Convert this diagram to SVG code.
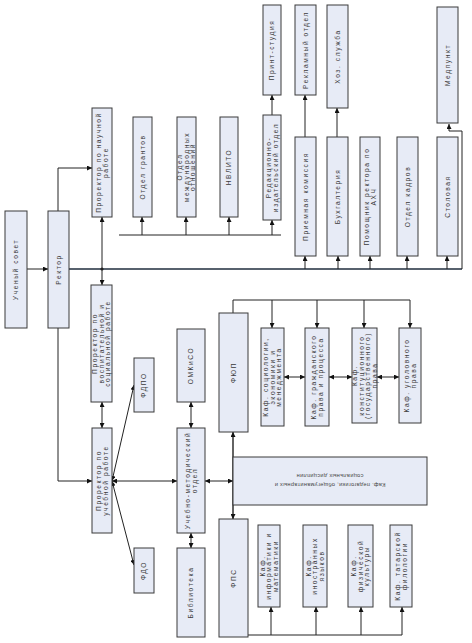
<svg xmlns="http://www.w3.org/2000/svg" width="472" height="643" viewBox="0 0 472 643">
<style>
.n rect{fill:#e7ebf6;stroke:#3a3a3a;stroke-width:1}
.t{font-family:"Liberation Sans",Arial,sans-serif;font-size:6.6px;letter-spacing:1.6px;fill:#3a3a3a;text-anchor:middle}
.s{font-family:"Liberation Sans",Arial,sans-serif;font-size:5.6px;letter-spacing:0.3px;fill:#444;text-anchor:middle}
.c path{fill:none;stroke:#222;stroke-width:1}
.c .m{stroke:#1f2d3d;stroke-width:1.3}
.e{marker-end:url(#ah)}
.d{marker-start:url(#ah);marker-end:url(#ah)}
</style>
<defs>
<marker id="ah" viewBox="0 0 6 6" refX="6" refY="3" markerWidth="5" markerHeight="5" orient="auto-start-reverse" markerUnits="userSpaceOnUse"><path d="M0,0 L6,3 L0,6 z" fill="#111"/></marker>
</defs>
<rect width="472" height="643" fill="#fff"/>
<g class="c" id="connectors">
<path class="e" d="M27,269 H48"/>
<path class="e" d="M58,211 V168 H92"/>
<path class="e" d="M58,328 V481 H92"/>
<path class="m" d="M69,269 H462"/>
<path class="e" d="M462,269 V131 H449 V124"/>
<path class="e" d="M102,269 V217"/>
<path class="e" d="M102,269 V285"/>
<path d="M119,235 H281"/>
<path class="e" d="M142,235 V217"/>
<path class="e" d="M186,235 V217"/>
<path class="e" d="M229,235 V217"/>
<path class="e" d="M272,235 V220"/>
<path class="e" d="M272,115 V95"/>
<path class="e" d="M305,137 V95"/>
<path class="e" d="M337,137 V108"/>
<path class="e" d="M305,269 V256"/>
<path class="e" d="M338,269 V256"/>
<path class="e" d="M370,269 V256"/>
<path class="e" d="M407,269 V256"/>
<path class="e" d="M447,269 V256"/>
<path class="d" d="M102,402 V428"/>
<path class="d" d="M112,481 L134,385"/>
<path class="d" d="M112,481 L134,565"/>
<path class="d" d="M112,481 H177"/>
<path class="d" d="M191,402 V428"/>
<path class="d" d="M191,533 V548"/>
<path class="d" d="M205,481 H233"/>
<path class="d" d="M233,432 V519" style="stroke-width:1.4"/>
<path d="M233,313 V300 H410"/>
<path class="e" d="M272,300 V328"/>
<path class="e" d="M317,300 V328"/>
<path class="e" d="M364,300 V328"/>
<path class="e" d="M410,300 V328"/>
<path class="d" d="M284,377 H305"/>
<path class="d" d="M329,377 H352"/>
<path class="d" d="M377,377 H399"/>
<path d="M248,635 H402"/>
<path class="e" d="M271,635 V607"/>
<path class="e" d="M316,635 V607"/>
<path class="e" d="M361,635 V607"/>
<path class="e" d="M402,635 V607"/>
<circle cx="102" cy="269" r="1.6" fill="#222"/>
</g>
<g class="n" id="uchsovet"><rect x="5" y="211" width="22" height="117"/><text class="t" transform="translate(16,269.5) rotate(-90)" dy="2.3">Ученый совет</text></g>
<g class="n" id="rektor"><rect x="48" y="211" width="21" height="117"/><text class="t" transform="translate(58.5,269.5) rotate(-90)" dy="2.3">Ректор</text></g>
<g class="n" id="pr_nauch"><rect x="92" y="108" width="20" height="109"/><text class="t" transform="translate(102,162.5) rotate(-90)"><tspan x="0" dy="-1">Проректор по научной</tspan><tspan x="0" dy="6.6">работе</tspan></text></g>
<g class="n" id="granty"><rect x="133" y="117" width="19" height="100"/><text class="t" transform="translate(142.5,167) rotate(-90)" dy="2.3">Отдел грантов</text></g>
<g class="n" id="mezhd"><rect x="177" y="117" width="19" height="100"/><text class="t" transform="translate(186.5,167) rotate(-90)"><tspan x="0" dy="-4.3">Отдел</tspan><tspan x="0" dy="6.6">международных</tspan><tspan x="0" dy="6.6">отношений</tspan></text></g>
<g class="n" id="nvlito"><rect x="220" y="117" width="18" height="100"/><text class="t" transform="translate(229,167) rotate(-90)" dy="2.3">НВЛИТО</text></g>
<g class="n" id="redizd"><rect x="263" y="115" width="18" height="105"/><text class="t" transform="translate(272,167.5) rotate(-90)"><tspan x="0" dy="-1">Редакционно-</tspan><tspan x="0" dy="6.6">издательский отдел</tspan></text></g>
<g class="n" id="print"><rect x="263" y="5" width="18" height="90"/><text class="t" transform="translate(272,50) rotate(-90)" dy="2.3">Принт-студия</text></g>
<g class="n" id="reklam"><rect x="295" y="5" width="21" height="90"/><text class="t" transform="translate(305.5,50) rotate(-90)" dy="2.3">Рекламный отдел</text></g>
<g class="n" id="hoz"><rect x="327" y="5" width="21" height="103"/><text class="t" transform="translate(337.5,56.5) rotate(-90)" dy="2.3">Хоз. служба</text></g>
<g class="n" id="priem"><rect x="295" y="137" width="21" height="119"/><text class="t" transform="translate(305.5,196.5) rotate(-90)" dy="2.3">Приемная комиссия</text></g>
<g class="n" id="buh"><rect x="327" y="137" width="21" height="119"/><text class="t" transform="translate(337.5,196.5) rotate(-90)" dy="2.3">Бухгалтерия</text></g>
<g class="n" id="pomahch"><rect x="360" y="137" width="20" height="119"/><text class="t" transform="translate(370,196.5) rotate(-90)"><tspan x="0" dy="-1">Помощник ректора по</tspan><tspan x="0" dy="6.6">АХЧ</tspan></text></g>
<g class="n" id="kadry"><rect x="397" y="137" width="21" height="119"/><text class="t" transform="translate(407.5,196.5) rotate(-90)" dy="2.3">Отдел кадров</text></g>
<g class="n" id="stolov"><rect x="437" y="137" width="21" height="119"/><text class="t" transform="translate(447.5,196.5) rotate(-90)" dy="2.3">Столовая</text></g>
<g class="n" id="medp"><rect x="437" y="7" width="21" height="116"/><text class="t" transform="translate(447.5,65) rotate(-90)" dy="2.3">Медпункт</text></g>
<g class="n" id="pr_vosp"><rect x="91" y="285" width="21" height="117"/><text class="t" transform="translate(101.5,343.5) rotate(-90)"><tspan x="0" dy="-4.3">Проректор по</tspan><tspan x="0" dy="6.6">воспитательной и</tspan><tspan x="0" dy="6.6">социальной работе</tspan></text></g>
<g class="n" id="fdpo"><rect x="134" y="358" width="20" height="54"/><text class="t" transform="translate(144,385) rotate(-90)" dy="2.3">ФДПО</text></g>
<g class="n" id="omkiso"><rect x="177" y="329" width="28" height="73"/><text class="t" transform="translate(191,365.5) rotate(-90)" dy="2.3">ОМКиСО</text></g>
<g class="n" id="fyup"><rect x="219" y="313" width="29" height="119"/><text class="t" transform="translate(233.5,372.5) rotate(-90)" dy="2.3">ФЮП</text></g>
<g class="n" id="k_soc"><rect x="261" y="328" width="23" height="98"/><text class="t" transform="translate(272.5,377) rotate(-90)"><tspan x="0" dy="-4.3">Каф. социологии,</tspan><tspan x="0" dy="6.6">экономики и</tspan><tspan x="0" dy="6.6">менеджмента</tspan></text></g>
<g class="n" id="k_grazh"><rect x="305" y="328" width="24" height="98"/><text class="t" transform="translate(317,377) rotate(-90)"><tspan x="0" dy="-1">Каф. гражданского</tspan><tspan x="0" dy="6.6">права и процесса</tspan></text></g>
<g class="n" id="k_konst"><rect x="352" y="328" width="25" height="95"/><text class="t" transform="translate(364.5,375.5) rotate(-90)"><tspan x="0" dy="-7.6">Каф.</tspan><tspan x="0" dy="6.6">конституционного</tspan><tspan x="0" dy="6.6">(государственного)</tspan><tspan x="0" dy="6.6">права</tspan></text></g>
<g class="n" id="k_ugol"><rect x="399" y="328" width="22" height="95"/><text class="t" transform="translate(410,375.5) rotate(-90)"><tspan x="0" dy="-1">Каф. уголовного</tspan><tspan x="0" dy="6.6">права</tspan></text></g>
<g class="n" id="pr_ucheb"><rect x="92" y="428" width="20" height="105"/><text class="t" transform="translate(102,480.5) rotate(-90)"><tspan x="0" dy="-1">Проректор по</tspan><tspan x="0" dy="6.6">учебной работе</tspan></text></g>
<g class="n" id="umo"><rect x="177" y="428" width="28" height="105"/><text class="t" transform="translate(191,480.5) rotate(-90)"><tspan x="0" dy="-1">Учебно-методический</tspan><tspan x="0" dy="6.6">отдел</tspan></text></g>
<g class="n" id="k_ped"><rect x="233" y="457" width="194" height="48"/><text class="s" transform="translate(330,481) rotate(180)"><tspan x="0" dy="-1.5">Каф. педагогики, общегуманитарных и</tspan><tspan x="0" dy="9">социальных дисциплин</tspan></text></g>
<g class="n" id="fdo"><rect x="134" y="548" width="20" height="45"/><text class="t" transform="translate(144,570.5) rotate(-90)" dy="2.3">ФДО</text></g>
<g class="n" id="bibl"><rect x="177" y="548" width="28" height="89"/><text class="t" transform="translate(191,592.5) rotate(-90)" dy="2.3">Библиотека</text></g>
<g class="n" id="fps"><rect x="219" y="519" width="29" height="118"/><text class="t" transform="translate(233.5,578) rotate(-90)" dy="2.3">ФПС</text></g>
<g class="n" id="k_inf"><rect x="258" y="525" width="22" height="82"/><text class="t" transform="translate(269,566) rotate(-90)"><tspan x="0" dy="-4.3">Каф.</tspan><tspan x="0" dy="6.6">информатики и</tspan><tspan x="0" dy="6.6">математики</tspan></text></g>
<g class="n" id="k_inostr"><rect x="303" y="525" width="24" height="82"/><text class="t" transform="translate(315,566) rotate(-90)"><tspan x="0" dy="-4.3">Каф.</tspan><tspan x="0" dy="6.6">иностранных</tspan><tspan x="0" dy="6.6">языков</tspan></text></g>
<g class="n" id="k_fiz"><rect x="348" y="525" width="25" height="82"/><text class="t" transform="translate(360.5,566) rotate(-90)"><tspan x="0" dy="-4.3">Каф.</tspan><tspan x="0" dy="6.6">физической</tspan><tspan x="0" dy="6.6">культуры</tspan></text></g>
<g class="n" id="k_tat"><rect x="390" y="525" width="22" height="82"/><text class="t" transform="translate(401,566) rotate(-90)"><tspan x="0" dy="-1">Каф. татарской</tspan><tspan x="0" dy="6.6">филологии</tspan></text></g>
</svg>
